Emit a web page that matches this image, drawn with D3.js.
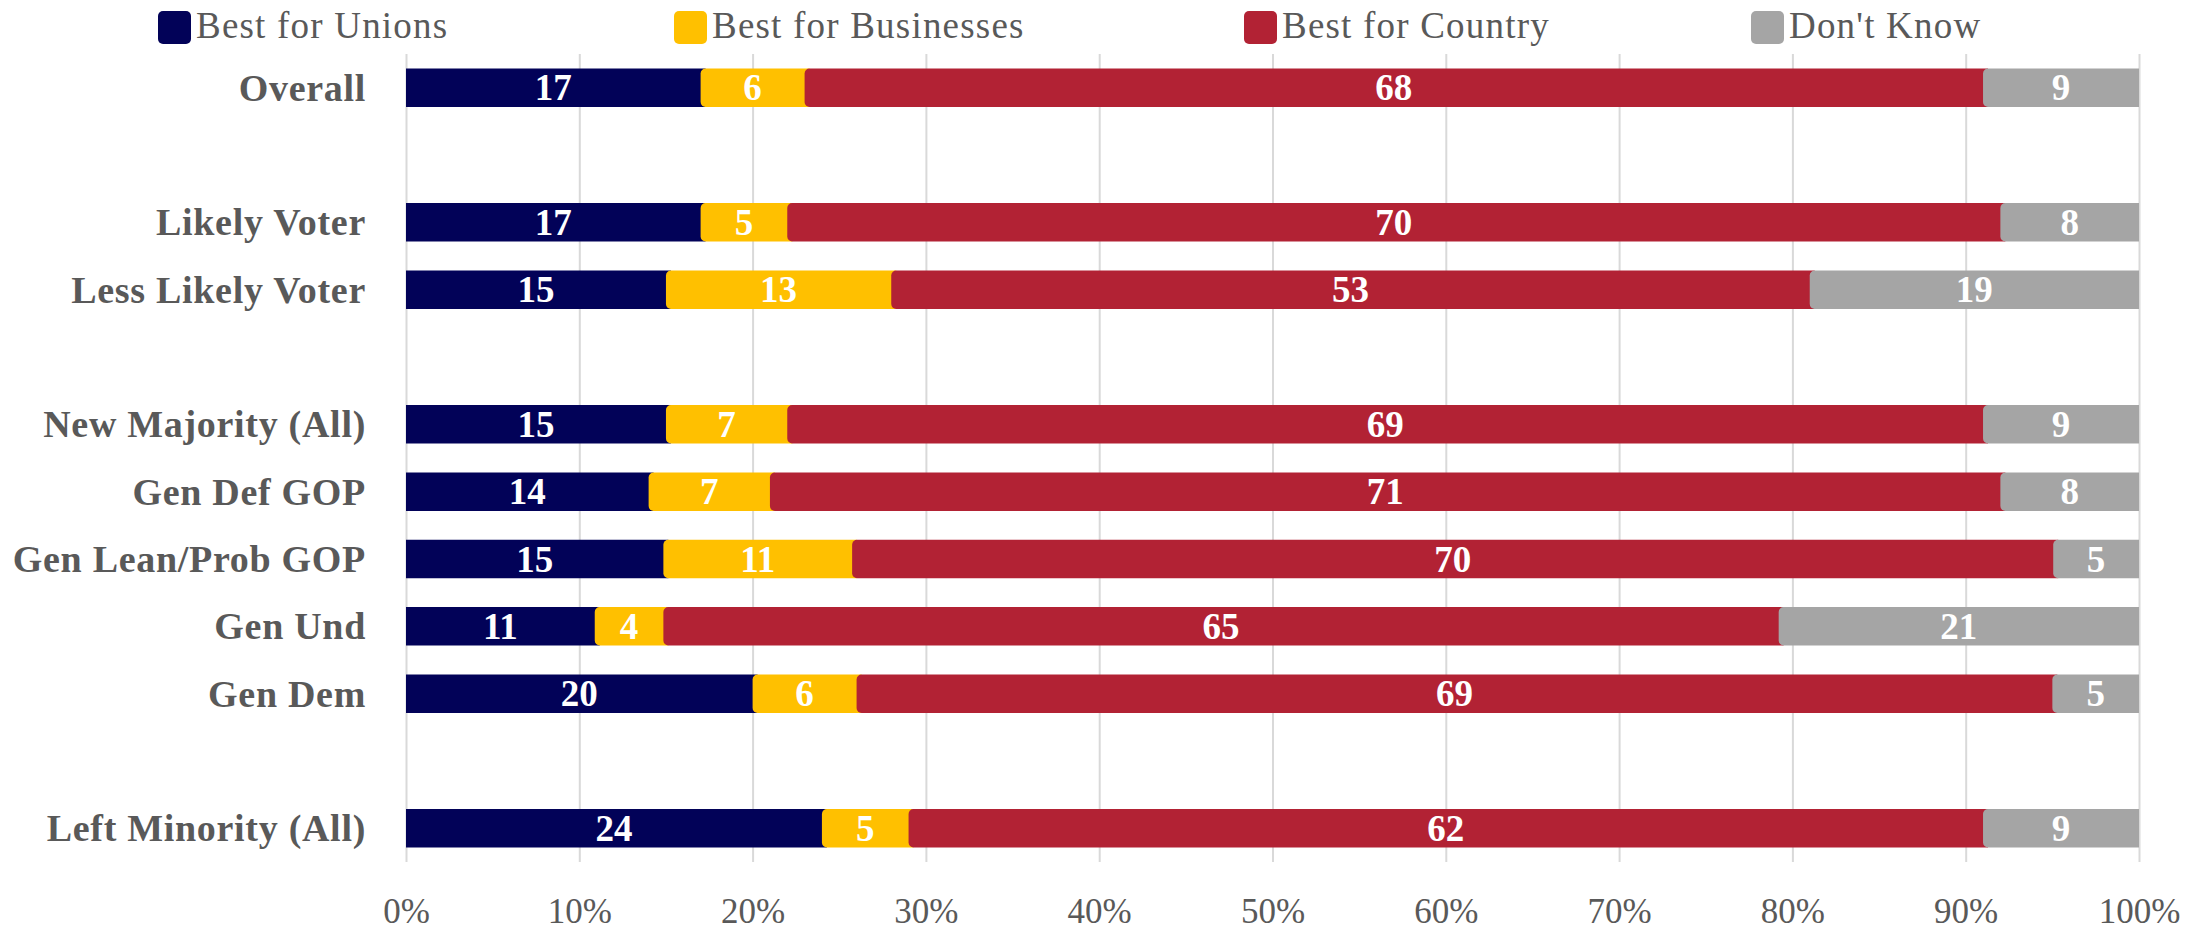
<!DOCTYPE html>
<html>
<head>
<meta charset="utf-8">
<script src="https://cdn.jsdelivr.net/npm/d3@7"></script>
<style>
  html, body { margin: 0; padding: 0; background: #ffffff; }
  svg { display: block; }
  text { font-family: "Liberation Serif", "Times New Roman", serif; }
</style>
</head>
<body>
<svg id="chart" width="2197" height="932"></svg>
<script>
// Row labels (null = spacer row between groups)
const categories = [
  "Overall", null,
  "Likely Voter", "Less Likely Voter", null,
  "New Majority (All)", "Gen Def GOP", "Gen Lean/Prob GOP", "Gen Und", "Gen Dem", null,
  "Left Minority (All)"
];

// Series values (percent of respondents)
const seriesNames = ["Best for Unions", "Best for Businesses", "Best for Country", "Don't Know"];
const bestForUnions     = [17, null, 17, 15, null, 15, 14, 15, 11, 20, null, 24];
const bestForBusinesses = [ 6, null,  5, 13, null,  7,  7, 11,  4,  6, null,  5];
const bestForCountry    = [68, null, 70, 53, null, 69, 71, 70, 65, 69, null, 62];
const dontKnow          = [ 9, null,  8, 19, null,  9,  8,  5, 21,  5, null,  9];

// Axis ticks
const tickValues = [0, 0.1, 0.2, 0.3, 0.4, 0.5, 0.6, 0.7, 0.8, 0.9, 1.0];
const tickLabels = ["0%", "10%", "20%", "30%", "40%", "50%", "60%", "70%", "80%", "90%", "100%"];

const seriesValues = [bestForUnions, bestForBusinesses, bestForCountry, dontKnow];
const colors = ["#020258", "#FFC000", "#B22234", "#A5A5A5"];
const textGray = "#595959";

// Build rows for the stack (spacer rows are skipped when drawing)
const rows = categories.map((c, i) => {
  const r = { index: i, label: c };
  seriesNames.forEach((s, k) => { r[s] = seriesValues[k][i] == null ? 0 : seriesValues[k][i]; });
  return r;
});

const svg = d3.select("#chart");

const plot = { left: 406, right: 2139, top: 54, bottom: 862 };

const x = d3.scaleLinear().domain([0, 1]).range([plot.left, plot.right]);
const y = d3.scaleBand()
  .domain(d3.range(categories.length))
  .range([plot.top, plot.bottom])
  .paddingInner(0.4286)
  .paddingOuter(0.2143);

// 100% stacked layout
const stack = d3.stack().keys(seriesNames).offset(d3.stackOffsetExpand);
const stacked = stack(rows.filter(r => r.label !== null));

// Vertical gridlines
const grid = svg.append("g")
  .attr("transform", `translate(0,${plot.top})`)
  .call(d3.axisBottom(x).tickValues(tickValues).tickSize(plot.bottom - plot.top).tickFormat(""));
grid.select(".domain").remove();
grid.selectAll("line").attr("stroke", "#d9d9d9").attr("stroke-width", 2);

// Segment shape: rounded left corners on all but the first segment
function segPath(x0, x1, yTop, h, r) {
  if (r <= 0) return `M${x0},${yTop}H${x1}V${yTop + h}H${x0}Z`;
  return `M${x0 + r},${yTop}H${x1}V${yTop + h}H${x0 + r}` +
         `A${r},${r} 0 0 1 ${x0},${yTop + h - r}V${yTop + r}` +
         `A${r},${r} 0 0 1 ${x0 + r},${yTop}Z`;
}

const radius = 5;
const barLayer = svg.append("g");
stacked.forEach((layer, k) => {
  const last = k === stacked.length - 1;
  barLayer.append("g")
    .attr("fill", colors[k])
    .selectAll("path")
    .data(layer)
    .join("path")
    .attr("d", d => {
      const x0 = x(d[0]);
      const x1 = last ? x(d[1]) : x(d[1]) + radius;
      return segPath(x0, x1, y(d.data.index), y.bandwidth(), k === 0 ? 0 : radius);
    });
});

// Value labels centred in each segment
const labelLayer = svg.append("g");
stacked.forEach((layer, k) => {
  labelLayer.append("g")
    .selectAll("text")
    .data(layer)
    .join("text")
    .attr("x", d => x((d[0] + d[1]) / 2))
    .attr("y", d => y(d.data.index) + y.bandwidth() / 2)
    .attr("dy", "0.34em")
    .attr("text-anchor", "middle")
    .attr("fill", "#ffffff")
    .attr("font-weight", "bold")
    .attr("font-size", 37)
    .text(d => d.data[layer.key]);
});

// Category labels
svg.append("g")
  .selectAll("text")
  .data(rows.filter(r => r.label !== null))
  .join("text")
  .attr("x", plot.left - 40)
  .attr("y", d => y(d.index) + y.bandwidth() / 2)
  .attr("dy", "0.34em")
  .attr("text-anchor", "end")
  .attr("fill", textGray)
  .attr("font-weight", "bold")
  .attr("font-size", 38)
  .attr("letter-spacing", 0.7)
  .text(d => d.label);

// Percentage axis labels
const axis = svg.append("g")
  .attr("transform", `translate(0,${plot.bottom})`)
  .call(d3.axisBottom(x).tickValues(tickValues).tickSize(0).tickPadding(0)
    .tickFormat((d, i) => tickLabels[i]));
axis.select(".domain").remove();
axis.selectAll("text")
  .attr("y", 61)
  .attr("dy", 0)
  .attr("fill", textGray)
  .attr("font-size", 35)
  .attr("font-family", "Liberation Serif, serif");

// Legend
const legendSlots = [158, 674, 1244, 1751];
const legend = svg.append("g")
  .selectAll("g")
  .data(seriesNames)
  .join("g")
  .attr("transform", (d, i) => `translate(${legendSlots[i]},11)`);
legend.append("rect")
  .attr("width", 33).attr("height", 33).attr("rx", 5)
  .attr("fill", (d, i) => colors[i]);
legend.append("text")
  .attr("x", 38).attr("y", 27)
  .attr("fill", textGray)
  .attr("font-size", 37)
  .attr("letter-spacing", 1.2)
  .text(d => d);
</script>
</body>
</html>
